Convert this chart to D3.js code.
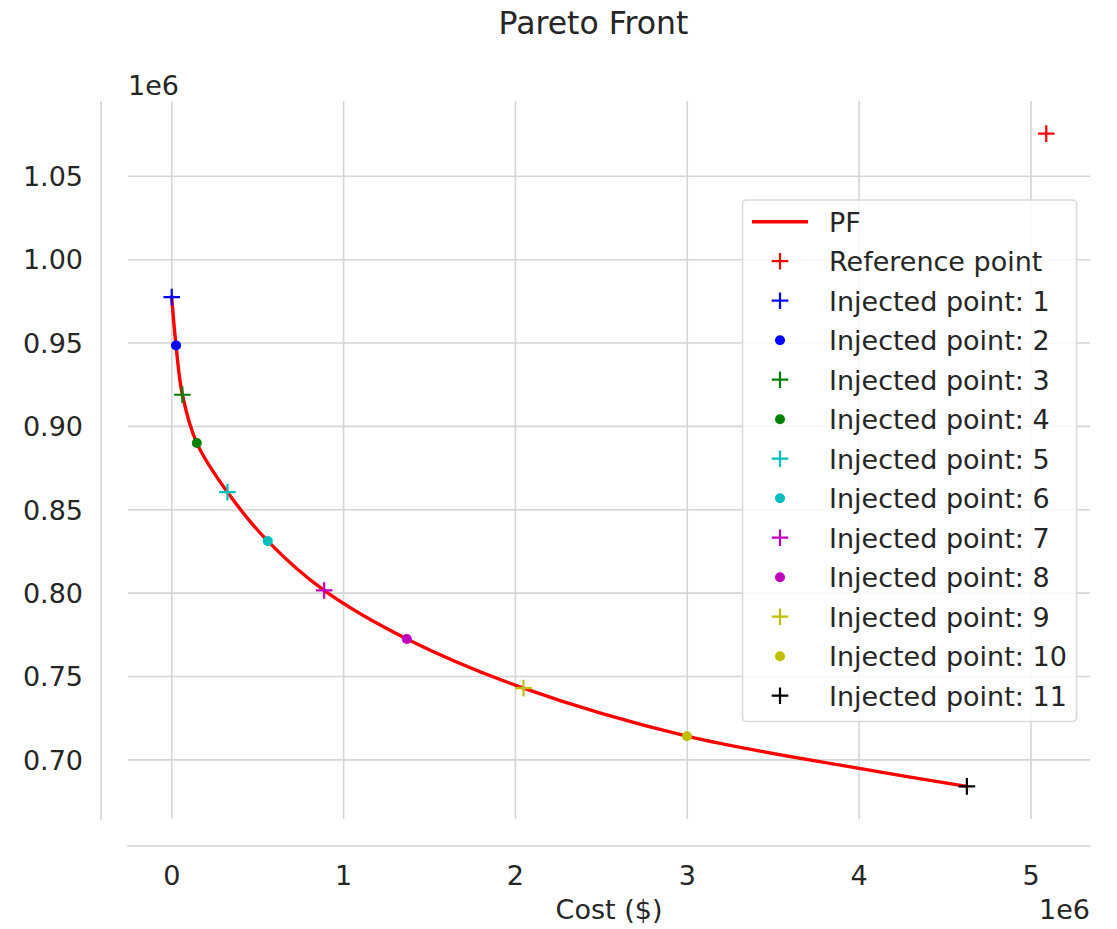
<!DOCTYPE html>
<html>
<head>
  <meta charset="utf-8">
  <script src="https://d3js.org/d3.v7.min.js"></script>
  <style>
    body { margin: 0; background: #ffffff; }
    text { font-family: "DejaVu Sans", sans-serif; fill: #262626; }
    .grid line, .spine { stroke: #d5d5d5; stroke-width: 1.6; }
  </style>
</head>
<body>
  <svg id="canvas" width="1117" height="929"></svg>
<script>
  // pareto front (cost in $, objective)
  const pfCost = [0, 25000, 62000, 146000, 324000, 559000, 887000, 1368000, 2047000, 2998000, 4000000, 4627000];
  const pfObj  = [977600, 948600, 919000, 890000, 860600, 831200, 801600, 772500, 743000, 714200, 694900, 684100];

  const refCost = 5089000;
  const refObj = 1075600;

  const injCost = [0, 25000, 62000, 146000, 324000, 559000, 887000, 1368000, 2047000, 2998000, 4627000];
  const injObj  = [977600, 948600, 919000, 890000, 860600, 831200, 801600, 772500, 743000, 714200, 684100];
  const injColor = ["b", "b", "g", "g", "c", "c", "m", "m", "y", "y", "k"];
  const injMarker = ["+", "o", "+", "o", "+", "o", "+", "o", "+", "o", "+"];

  const xTicks = [0, 1e6, 2e6, 3e6, 4e6, 5e6];
  const xTickLabels = ["0", "1", "2", "3", "4", "5"];
  const yTicks = [0.70e6, 0.75e6, 0.80e6, 0.85e6, 0.90e6, 0.95e6, 1.00e6, 1.05e6];
  const yTickLabels = ["0.70", "0.75", "0.80", "0.85", "0.90", "0.95", "1.00", "1.05"];

  const colors = { r: "#ff0000", b: "#0000ff", g: "#008000", c: "#00bfbf", m: "#bf00bf", y: "#bfbf00", k: "#000000" };

  const svg = d3.select("svg");
  const box = { left: 128, right: 1090, top: 101, bottom: 819 };
  const offset = 27;
  const fs = 27;

  // matplotlib style 5% margins
  function padded(vals) {
    const lo = d3.min(vals), hi = d3.max(vals), m = (hi - lo) * 0.05;
    return [lo - m, hi + m];
  }
  const x = d3.scaleLinear().domain(padded(pfCost.concat([refCost]))).range([box.left, box.right]);
  const y = d3.scaleLinear().domain(padded(pfObj.concat([refObj]))).range([box.bottom, box.top]);

  // grid
  const grid = svg.append("g").attr("class", "grid");
  grid.selectAll(".gx").data(xTicks).join("line")
      .attr("x1", d => x(d)).attr("x2", d => x(d))
      .attr("y1", box.top).attr("y2", box.bottom);
  grid.selectAll(".gy").data(yTicks).join("line")
      .attr("y1", d => y(d)).attr("y2", d => y(d))
      .attr("x1", box.left).attr("x2", box.right);

  // offset spines
  svg.append("line").attr("class", "spine")
      .attr("x1", box.left - offset).attr("x2", box.left - offset)
      .attr("y1", box.top).attr("y2", box.bottom + 1);
  svg.append("line").attr("class", "spine")
      .attr("x1", box.left - 1).attr("x2", box.right + 1)
      .attr("y1", box.bottom + offset).attr("y2", box.bottom + offset);

  // tick labels
  svg.selectAll(".xt").data(xTicks).join("text")
      .attr("x", d => x(d)).attr("y", box.bottom + offset + 39)
      .attr("text-anchor", "middle").style("font-size", fs + "px")
      .text((d, i) => xTickLabels[i]);
  svg.selectAll(".yt").data(yTicks).join("text")
      .attr("x", box.left - offset - 18).attr("y", d => y(d) + 9.8)
      .attr("text-anchor", "end").style("font-size", fs + "px")
      .text((d, i) => yTickLabels[i]);

  // offset texts and labels
  svg.append("text").attr("x", 128).attr("y", 95).style("font-size", fs + "px").text("1e6");
  svg.append("text").attr("x", 1090).attr("y", 919).attr("text-anchor", "end").style("font-size", fs + "px").text("1e6");
  svg.append("text").attr("x", (box.left + box.right) / 2).attr("y", 919)
      .attr("text-anchor", "middle").style("font-size", fs + "px").text("Cost ($)");
  svg.append("text").attr("x", 593.5).attr("y", 34)
      .attr("text-anchor", "middle").style("font-size", "31.5px").text("Pareto Front");

  // pareto front line
  const line = d3.line().x((d, i) => x(pfCost[i])).y((d, i) => y(pfObj[i])).curve(d3.curveCatmullRom.alpha(0.5));
  svg.append("path").datum(pfCost)
      .attr("d", line)
      .attr("fill", "none").attr("stroke", colors.r).attr("stroke-width", 3.4)
      .attr("stroke-linejoin", "round").attr("stroke-linecap", "square");

  function drawMarker(g, kind, color, cx, cy) {
    if (kind === "+") {
      g.append("path")
          .attr("d", `M ${cx - 8.3},${cy} L ${cx + 8.3},${cy} M ${cx},${cy - 8.3} L ${cx},${cy + 8.3}`)
          .attr("stroke", color).attr("stroke-width", 2.2).attr("fill", "none");
    }
    else {
      g.append("circle").attr("cx", cx).attr("cy", cy).attr("r", 5)
          .attr("fill", color).attr("stroke", "none");
    }
  }

  const pts = svg.append("g");
  drawMarker(pts, "+", colors.r, x(refCost), y(refObj));
  injCost.forEach((c, i) => drawMarker(pts, injMarker[i], colors[injColor[i]], x(c), y(injObj[i])));

  // legend
  const lg = svg.append("g");
  lg.append("rect").attr("x", 742.5).attr("y", 200).attr("width", 334).attr("height", 521.5)
      .attr("rx", 4).attr("fill", "#ffffff").attr("fill-opacity", 0.8)
      .attr("stroke", "#d9d9d9").attr("stroke-width", 1.6);
  const rowY = i => 221.7 + i * 39.5;
  lg.append("line").attr("x1", 752).attr("x2", 808).attr("y1", rowY(0)).attr("y2", rowY(0))
      .attr("stroke", colors.r).attr("stroke-width", 3.4);
  lg.append("text").attr("x", 829).attr("y", rowY(0) + 9.8).style("font-size", fs + "px").text("PF");
  drawMarker(lg, "+", colors.r, 780, rowY(1));
  lg.append("text").attr("x", 829).attr("y", rowY(1) + 9.8).style("font-size", fs + "px").text("Reference point");
  injCost.forEach((c, i) => {
    drawMarker(lg, injMarker[i], colors[injColor[i]], 780, rowY(i + 2));
    lg.append("text").attr("x", 829).attr("y", rowY(i + 2) + 9.8).style("font-size", fs + "px")
        .text(`Injected point: ${i + 1}`);
  });
</script>
</body>
</html>
